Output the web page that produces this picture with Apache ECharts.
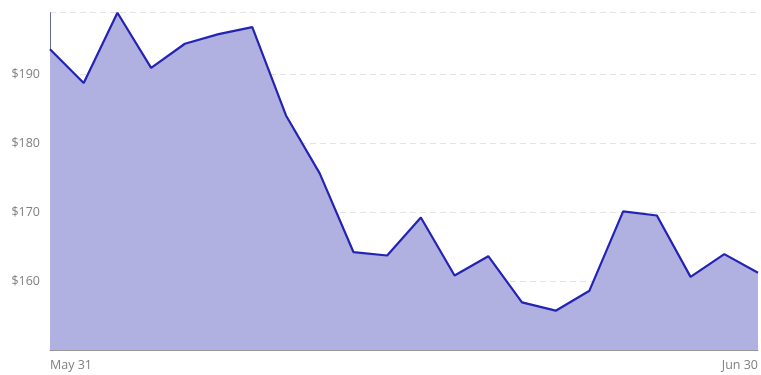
<!DOCTYPE html>
<html>
<head>
<meta charset="utf-8">
<script src="https://cdn.jsdelivr.net/npm/echarts@6/dist/echarts.min.js"></script>
<style>
html,body{margin:0;padding:0;background:#fff;}
#chart{width:761px;height:375px;}
</style>
</head>
<body>
<div id="chart"></div>
<script>
const dates = ['May 31','Jun 1','Jun 2','Jun 5','Jun 6','Jun 7','Jun 8','Jun 9','Jun 12','Jun 13','Jun 14','Jun 15','Jun 16','Jun 20','Jun 21','Jun 22','Jun 23','Jun 26','Jun 27','Jun 28','Jun 29','Jun 30'];
const prices = [193.6,188.7,198.9,190.9,194.4,195.8,196.8,184.0,175.6,164.2,163.7,169.2,160.8,163.6,156.9,155.7,158.6,170.1,169.5,160.6,163.9,161.2];
const yMin = 150;

const chart = echarts.init(document.getElementById('chart'), null, {renderer:'canvas'});
chart.setOption({
  animation:false,
  grid:{left:50,right:1,top:12.7,bottom:25},
  xAxis:{
    type:'category',
    data:dates,
    boundaryGap:false,
    axisLine:{lineStyle:{color:'#999',width:1}},
    axisTick:{show:false},
    axisLabel:{
      interval:(i)=> i===0 || i===dates.length-1,
      color:'#808080',
      fontSize:12.5,
      fontFamily:'Open Sans',
      margin:9,
      alignMinLabel:'left',
      alignMaxLabel:'right'
    },
    splitLine:{show:false}
  },
  yAxis:{
    type:'value',
    min:yMin,
    max:'dataMax',
    axisLine:{show:true,lineStyle:{color:'#6a6a90',width:1}},
    axisTick:{show:false},
    axisLabel:{
      color:'#808080',
      fontSize:12.5,
      fontFamily:'Open Sans',
      margin:10,
      showMinLabel:false,
      showMaxLabel:false,
      formatter:(v)=> '$'+v
    },
    splitLine:{show:true,lineStyle:{color:'#e3e3e3',type:[6,4],width:1}}
  },
  series:[{
    type:'line',
    data:prices,
    symbol:'none',
    lineStyle:{color:'#2323b4',width:2.2},
    areaStyle:{color:'#b0b0e1',opacity:1},
    z:1
  }]
});
</script>
</body>
</html>
